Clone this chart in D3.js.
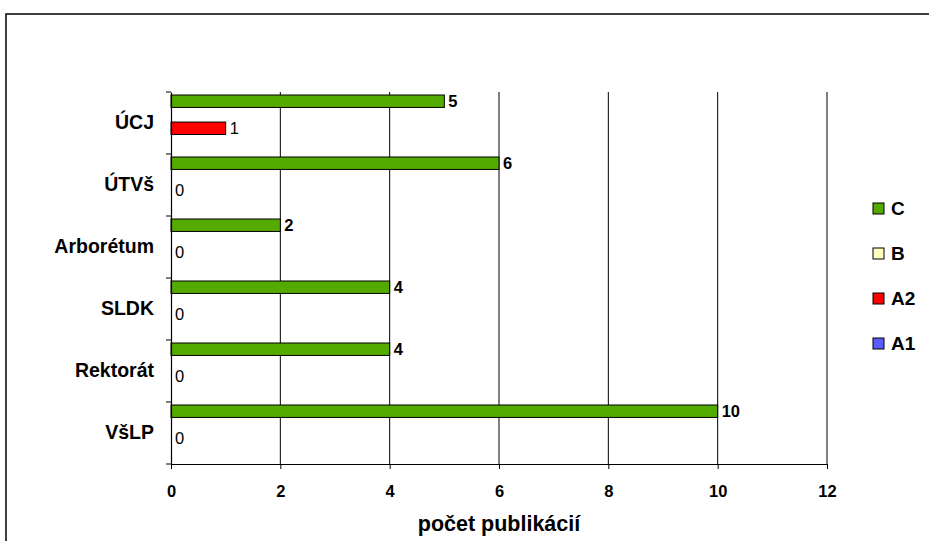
<!DOCTYPE html>
<html>
<head>
  <meta charset="UTF-8">
  <style>
    body { margin: 0; background: #fff; }
    text { font-family: "Liberation Sans", Arial, sans-serif; }
  </style>
</head>
<body>
<svg></svg>
<script src="https://d3js.org/d3.v7.min.js"></script>

<script>

let width = 929, height = 541;

// data
const categories = ["ÚCJ", "ÚTVš", "Arborétum", "SLDK", "Rektorát", "VšLP"];
const series = ["C", "B", "A2", "A1"];
const seriesColors = ["#55aa00", "#ffffc0", "#ff0000", "#5b5bff"];
const valuesC  = [5, 6, 2, 4, 4, 10];
const valuesB  = [null, null, null, null, null, null];
const valuesA2 = [1, 0, 0, 0, 0, 0];
const valuesA1 = [null, null, null, null, null, null];
const xTicks = [0, 2, 4, 6, 8, 10, 12];
const xTitle = "počet publikácií";

let svg = d3.select("svg")
    .attr("width", width)
    .attr("height", height);

// outer frame
svg.append("rect")
    .attr("x", 6).attr("y", 14)
    .attr("width", width + 20).attr("height", height)
    .attr("fill", "none")
    .attr("stroke", "#111")
    .attr("stroke-width", 1.6);

let x = d3.scaleLinear().domain([0, 12]).range([171, 827]);
let y0 = d3.scaleBand().domain(categories).range([92, 464]);
let y1 = d3.scaleBand().domain(series).range([3, 56]).paddingInner(0.08);

let color = d3.scaleOrdinal().domain(series).range(seriesColors);

// gridlines
svg.append("g")
    .selectAll("line")
    .data(xTicks.slice(1))
    .enter()
    .append("line")
    .attr("x1", d => x(d)).attr("x2", d => x(d))
    .attr("y1", y0.range()[0]).attr("y2", y0.range()[1])
    .attr("stroke", "#000")
    .attr("stroke-width", 1);

let rows = [];
categories.forEach(function(c, i) {
    let vals = [valuesC[i], valuesB[i], valuesA2[i], valuesA1[i]];
    series.forEach(function(s, j) {
        if (vals[j] !== null) rows.push({cat: c, s: s, v: vals[j]});
    });
});

let bars = svg.append("g");

bars.selectAll("rect")
    .data(rows.filter(d => d.v > 0))
    .enter()
    .append("rect")
    .attr("x", x(0))
    .attr("y", d => y0(d.cat) + y1(d.s))
    .attr("width", d => x(d.v) - x(0))
    .attr("height", y1.bandwidth())
    .attr("fill", d => color(d.s))
    .attr("stroke", "#000")
    .attr("stroke-width", 1);

bars.selectAll("text")
    .data(rows)
    .enter()
    .append("text")
    .attr("x", d => x(d.v) + 4)
    .attr("y", d => y0(d.cat) + y1(d.s) + y1.bandwidth() / 2)
    .attr("dy", "0.36em")
    .style("font-size", "16.5px")
    .style("font-weight", d => d.s == "C" ? "bold" : "normal")
    .text(d => d.v);

// y axis
let yAxis = svg.append("g")
    .attr("transform", "translate(" + x(0) + ",0)")
    .call(d3.axisLeft(y0).tickSize(0).tickPadding(17));
yAxis.select(".domain").attr("stroke", "#000").attr("stroke-width", 1.2);
yAxis.selectAll("text")
    .style("font-size", "19.5px")
    .style("font-weight", "bold")
    .attr("fill", "#000");

// y boundary ticks
svg.append("g")
    .selectAll("line")
    .data(categories.map(c => y0(c)).concat([y0.range()[1]]))
    .enter()
    .append("line")
    .attr("x1", x(0) - 5).attr("x2", x(0))
    .attr("y1", d => d).attr("y2", d => d)
    .attr("stroke", "#000");

// x axis
let xAxis = svg.append("g")
    .attr("transform", "translate(0," + y0.range()[1] + ")")
    .call(d3.axisBottom(x).tickValues(xTicks).tickSize(5).tickSizeOuter(0).tickPadding(16));
xAxis.select(".domain").attr("stroke", "#000").attr("stroke-width", 1.2);
xAxis.selectAll("text")
    .style("font-size", "16.5px")
    .style("font-weight", "bold")
    .attr("fill", "#000");

svg.append("text")
    .attr("x", (x(0) + x(12)) / 2)
    .attr("y", 531)
    .attr("text-anchor", "middle")
    .style("font-size", "21.5px")
    .style("font-weight", "bold")
    .text(xTitle);

// legend
let legend = svg.selectAll("g.legendEntry")
    .data(series)
    .enter()
    .append("g").attr("class", "legendEntry")
    .attr("transform", (d, i) => "translate(873," + (208 + i * 45) + ")");

legend.append("rect")
    .attr("x", 0).attr("y", -5)
    .attr("width", 11).attr("height", 11)
    .attr("fill", d => color(d))
    .attr("stroke", "#000");

legend.append("text")
    .attr("x", 18)
    .attr("y", 0)
    .attr("dy", "0.36em")
    .style("font-size", "19px")
    .style("font-weight", "bold")
    .text(d => d);

</script>

</body>
</html>
